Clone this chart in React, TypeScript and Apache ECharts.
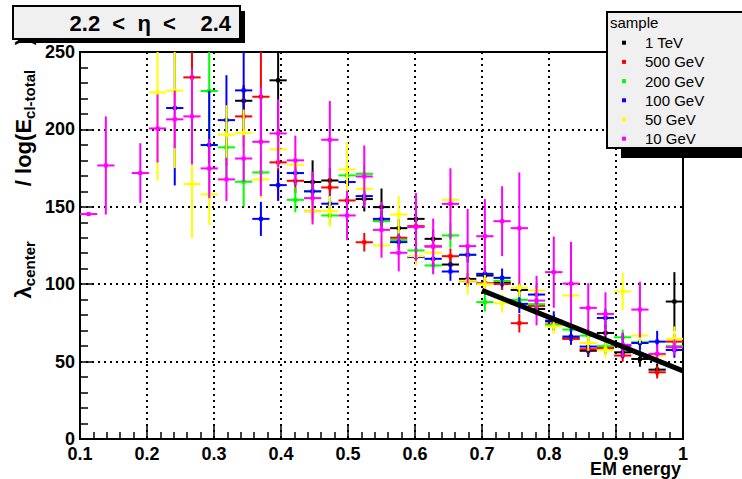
import React, { useEffect, useRef } from "react";
import * as echarts from "echarts";

const N = null;
const nBins = 35;
const xMin = 0.1;
const xMax = 1.0;
const yMin = 0;
const yMax = 250;

const seriesNames = ["1 TeV", "500 GeV", "200 GeV", "100 GeV", "50 GeV", "10 GeV"];

const val1TeV = [N, N, N, N, N, N, N, N, N, 218.5, N, 231.7, N, 166, 167, N, 155, 149.8, 136.2, 142.2, 129.3, 112.7, 103.4, 105.6, 101, 96.3, 84, 76, 65, 57, 68.5, 56, 51.7, 44.8, 88.8];
const err1TeV = [0, 0, 0, 0, 0, 0, 0, 0, 0, 10, 0, 40, 0, 14, 8, 0, 8, 12, 6, 6, 6, 5, 4, 4, 4, 4, 4, 4, 4, 4, 5, 4, 5, 4, 19];

const val500 = [N, N, N, N, N, N, 233.6, N, N, 208.4, 221.1, 178.7, 166.8, 147.2, 162.5, 154.1, 127.1, 141, 130, 137.5, 124.4, 118.1, 102, 100.6, 100.2, 74.8, 86, 74, 64.7, 58, 58.8, 53.9, N, 43.1, 62.9];
const err500 = [0, 0, 0, 0, 0, 0, 30, 0, 0, 20, 30, 25, 8, 6, 6, 6, 6, 6, 6, 5, 5, 5, 4, 4, 4, 6, 4, 4, 4, 4, 4, 4, 0, 4, 5];

const val200 = [N, N, N, N, N, N, N, 224.8, 188.4, 166.2, 172.2, N, 154.5, 160, 144.4, 170.3, 171.3, 140.7, 128.5, 121.8, 112.1, 131.5, 119, 88.4, 102.2, 89.9, 87.1, 73.7, 70.7, 66.8, 60, 65.7, 62.5, 54.5, 60];
const err200 = [0, 0, 0, 0, 0, 0, 0, 35, 20, 16, 12, 0, 8, 6, 6, 6, 6, 5, 5, 5, 5, 8, 5, 6, 4, 4, 4, 4, 4, 4, 4, 5, 4, 4, 4];

const val100 = [N, N, N, N, N, 213.8, N, 189.9, 206, 225.2, 142.2, 164, 171.8, 160, 152, 166, 156.9, 142.2, 127.2, 117.5, 116.4, 108.2, 119, 106.7, 104.1, 87.3, 93.3, 76.5, 66.2, 59.7, 78.2, 60.3, 62, 62.9, 57.5];
const err100 = [0, 0, 0, 0, 0, 50, 0, 35, 29, 25, 11, 10, 8, 6, 6, 6, 6, 5, 5, 5, 5, 6, 5, 5, 6, 6, 6, 6, 5, 5, 6, 8, 5, 7, 5];

const val50 = [N, N, N, N, 223.9, 225, 164.7, 158, 196.6, 197.8, 167.7, 187.1, 177.2, 147.2, 147.2, 174.1, 161.6, 125, 145, 118.1, 120.3, 154.5, 102.2, 100, 87.7, 97.6, 95.9, 72.8, 92.7, 62, 57.5, 95.3, 66.8, 53.9, 64.7];
const err50 = [0, 0, 0, 0, 57, 50, 35, 20, 19, 15, 12, 12, 10, 8, 10, 18, 8, 6, 12, 6, 6, 10, 9, 6, 6, 6, 5, 5, 8, 5, 5, 12, 5, 5, 8];

const val10 = [145.3, 176.7, N, 171.8, 200.6, 206.5, 208.4, 174.8, 167.7, 181.2, 192, 197.4, 180, 155.6, 193.3, 144.4, 169.6, 135.1, 120.3, 136.9, 124.4, 151.9, 124.6, 131, 140.7, 136.2, 89.4, 107.8, 100.4, 84.7, 80.8, 60.8, 83.6, 55, 59.3];
const err10 = [1, 31.7, 0, 19.3, 22, 18.6, 31, 19, 14, 15, 35, 22, 16, 17, 25, 16, 20, 18, 12, 22, 18, 23, 24, 24, 22.6, 36, 16, 23, 27, 16, 14, 8, 18, 6, 5];

const fitLineX = [0.7, 1.0];
const fitLineY = [96, 44];

const allValues = [val1TeV, val500, val200, val100, val50, val10];
const allErrors = [err1TeV, err500, err200, err100, err50, err10];
const colors = ["#000000", "#ff0000", "#00ff00", "#0000ff", "#ffff00", "#ff00ff"];

const binWidth = (xMax - xMin) / nBins;
const binCenters = Array.from({ length: nBins }, (_, i) => xMin + (i + 0.5) * binWidth);

const FONT = "'Liberation Sans', Arial, Helvetica, sans-serif";
const SP = "\u00a0";
const sp = (n: number) => SP.repeat(n);

export default function App() {
  const ref = useRef<HTMLDivElement>(null);
  useEffect(() => {
    if (!ref.current) return;
    const chart = echarts.init(ref.current, undefined, { renderer: "svg" });

    const renderItem = (params: any, api: any) => {
      const x = api.value(0);
      const y = api.value(1);
      const e = api.value(2);
      const c = api.coord([x, y]);
      const left = api.coord([x - binWidth / 2, y])[0];
      const right = api.coord([x + binWidth / 2, y])[0];
      const top = api.coord([x, y + e])[1];
      const bot = api.coord([x, y - e])[1];
      const color = api.visual("color");
      return {
        type: "group",
        children: [
          { type: "line", shape: { x1: left, y1: c[1], x2: right, y2: c[1] }, style: { stroke: color, lineWidth: 2 } },
          { type: "line", shape: { x1: c[0], y1: top, x2: c[0], y2: bot }, style: { stroke: color, lineWidth: 2 } },
          { type: "rect", shape: { x: c[0] - 2, y: c[1] - 2, width: 4, height: 4 }, style: { fill: color } },
        ],
      };
    };

    const series: any[] = seriesNames.map((name, si) => ({
      name,
      type: "custom",
      renderItem,
      clip: true,
      itemStyle: { color: colors[si] },
      encode: { x: 0, y: 1 },
      data: binCenters
        .map((xc, i) => (allValues[si][i] == null ? null : [xc, allValues[si][i], allErrors[si][i]]))
        .filter((d) => d !== null),
      z: 2 + si,
    }));

    series.push({
      name: "fit",
      type: "line",
      data: fitLineX.map((x, i) => [x, fitLineY[i]]),
      symbol: "none",
      lineStyle: { color: "#000", width: 5 },
      z: 20,
      silent: true,
    });

    const legendTop = 42.7;
    const legendStep = 19.2;

    const graphic: any[] = [
      // title box
      { type: "rect", z: 100, shape: { x: 18, y: 11, width: 227, height: 32 }, style: { fill: "#000" } },
      { type: "rect", z: 101, shape: { x: 13, y: 6, width: 227, height: 33 }, style: { fill: "#f0f0f0", stroke: "#000", lineWidth: 2 } },
      {
        type: "text",
        z: 102,
        x: 231,
        y: 23,
        style: { text: `2.2${sp(2)}<${sp(2)}η${sp(2)}<${sp(4)}2.4`, font: `bold 22px ${FONT}`, fill: "#000", align: "right", verticalAlign: "middle" },
      },
      // legend box
      { type: "rect", z: 100, shape: { x: 621, y: 146, width: 130, height: 12 }, style: { fill: "#000" } },
      { type: "rect", z: 101, shape: { x: 607, y: 12, width: 150, height: 136 }, style: { fill: "#f0f0f0", stroke: "#000", lineWidth: 2 } },
      { type: "text", z: 102, x: 610, y: 22, style: { text: "sample", font: `15px ${FONT}`, fill: "#000", align: "left", verticalAlign: "middle" } },
      ...seriesNames.flatMap((name, i) => [
        { type: "rect", z: 102, shape: { x: 622, y: legendTop + i * legendStep - 2, width: 4, height: 4 }, style: { fill: colors[i] } },
        {
          type: "text",
          z: 102,
          x: 645,
          y: legendTop + i * legendStep,
          style: { text: name, font: `15px ${FONT}`, fill: "#000", align: "left", verticalAlign: "middle" },
        },
      ]),
      // x title
      { type: "text", z: 102, x: 681, y: 469, style: { text: "EM energy", font: `bold 18px ${FONT}`, fill: "#000", align: "right", verticalAlign: "middle" } },
      // y title
      {
        type: "text",
        z: 102,
        x: 23,
        y: 38,
        rotation: Math.PI / 2,
        style: {
          text: `{n|λ}{s|center}{n|${sp(9)}/ log(E}{s|cl-total}{n|${sp(4)})}`,
          align: "right",
          verticalAlign: "middle",
          fill: "#000",
          rich: {
            n: { font: `bold 22px ${FONT}`, fill: "#000", lineHeight: 28, verticalAlign: "middle" },
            s: { font: `bold 15px ${FONT}`, fill: "#000", lineHeight: 16, verticalAlign: "bottom" },
          },
        },
      },
    ];

    chart.setOption({
      animation: false,
      backgroundColor: "#ffffff",
      grid: { left: 80, right: 59, top: 52, bottom: 40, show: true, borderColor: "#000", borderWidth: 2, backgroundColor: "#fff" },
      xAxis: {
        type: "value",
        min: xMin,
        max: xMax,
        interval: 0.1,
        axisLine: { show: true, lineStyle: { color: "#000", width: 2 } },
        axisTick: { show: true, inside: true, length: 14, lineStyle: { color: "#000", width: 1.5 } },
        minorTick: { show: true, splitNumber: 5, length: 7, lineStyle: { color: "#000", width: 1.5 } },
        splitLine: { show: true, lineStyle: { color: "#000", width: 2, type: [2, 4] } },
        axisLabel: {
          margin: 6,
          color: "#000",
          fontFamily: FONT,
          fontWeight: "bold",
          fontSize: 18,
          formatter: (v: number) => String(Math.round(v * 10) / 10),
        },
      },
      yAxis: {
        type: "value",
        min: yMin,
        max: yMax,
        interval: 50,
        axisLine: { show: true, lineStyle: { color: "#000", width: 2 } },
        axisTick: { show: true, inside: true, length: 14, lineStyle: { color: "#000", width: 1.5 } },
        minorTick: { show: true, splitNumber: 5, length: 8, lineStyle: { color: "#000", width: 1.5 } },
        splitLine: { show: true, lineStyle: { color: "#000", width: 2, type: [2, 4] } },
        axisLabel: { margin: 5, color: "#000", fontFamily: FONT, fontWeight: "bold", fontSize: 18 },
      },
      series,
      graphic,
    });

    return () => chart.dispose();
  }, []);

  return (
    <div
      ref={ref}
      style={{ position: "absolute", left: 0, top: 0, width: 742, height: 479, background: "#fff" }}
    />
  );
}
